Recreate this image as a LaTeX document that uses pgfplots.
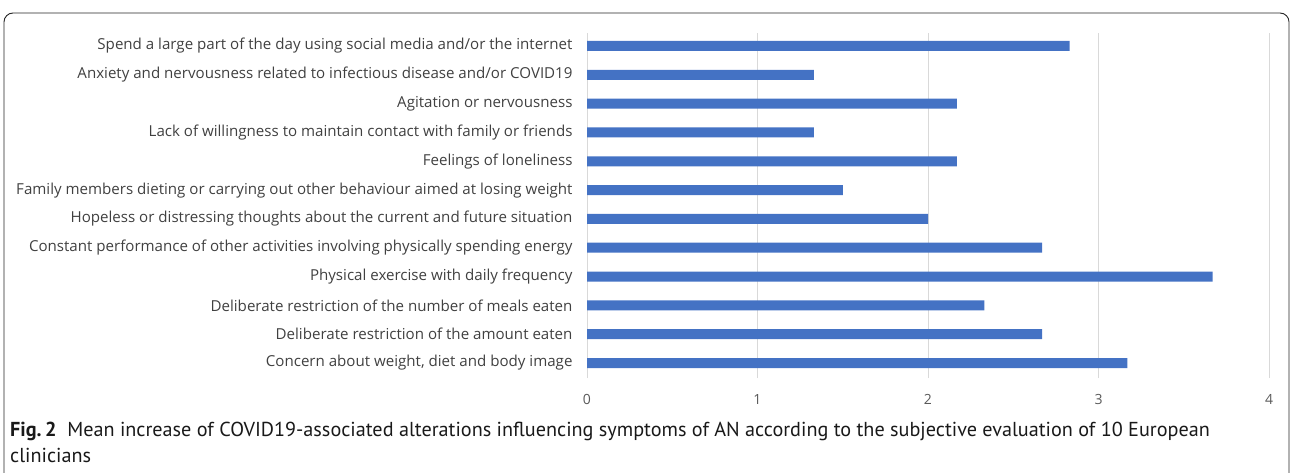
\documentclass[border=0pt]{standalone}
\usepackage{fontspec}
\setmainfont{Open Sans}
\newfontfamily\capfont{PT Sans}
\usepackage{pgfplots}
\pgfplotsset{compat=1.18}
\definecolor{barblue}{HTML}{4472C4}
\definecolor{gridgray}{HTML}{D9D9D9}
\definecolor{txt}{HTML}{404040}
\definecolor{tickc}{HTML}{595959}
\begin{document}
\begin{tikzpicture}[x=1pt,y=1pt]
\useasboundingbox (0,0) rectangle (1290,472);
\draw[line width=0.9pt, rounded corners=9pt, black!85] (4,-20) -- (4,459) -- (1289,459) -- (1289,-20);
\begin{axis}[
  at={(587pt,94pt)}, anchor=south west,
  scale only axis, width=682pt, height=345pt,
  xmin=0, xmax=4, ymin=-0.52, ymax=11.45,
  xbar, bar width=10pt,
  axis line style={draw=none},
  xmajorgrids, grid style={gridgray, line width=1pt},
  xtick={0,1,2,3,4}, ytick={0,...,11},
  major tick length=0pt,
  xticklabel style={tickc, font=\fontsize{14}{14}\selectfont, yshift=-13pt},
  yticklabel style={txt, font=\fontsize{15.1}{15}\selectfont, xshift=-11pt},
  /pgf/number format/assume math mode=true,
  yticklabels={
    {Concern about weight, diet and body image},
    Deliberate restriction of the amount eaten,
    Deliberate restriction of the number of meals eaten,
    Physical exercise with daily frequency,
    Constant performance of other activities involving physically spending energy,
    Hopeless or distressing thoughts about the current and future situation,
    Family members dieting or carrying out other behaviour aimed at losing weight,
    Feelings of loneliness,
    Lack of willingness to maintain contact with family or friends,
    Agitation or nervousness,
    Anxiety and nervousness related to infectious disease and/or COVID19,
    Spend a large part of the day using social media and/or the internet\ },
]
\addplot[fill=barblue, draw=none] coordinates {
  (3.17,0) (2.67,1) (2.33,2) (3.67,3) (2.67,4) (2.00,5)
  (1.50,6) (2.17,7) (1.33,8) (2.17,9) (1.33,10) (2.83,11)
};
\end{axis}
\node[anchor=base west, inner sep=0pt, font=\capfont\fontsize{20.2}{20}\selectfont, text=black!90] at (10,36)
  {\textbf{Fig.\,2}\ \ Mean increase of COVID19-associated alterations influencing symptoms of AN according to the subjective evaluation of 10 European};
\node[anchor=base west, inner sep=0pt, font=\capfont\fontsize{20.2}{20}\selectfont, text=black!90] at (10,10)
  {clinicians};
\end{tikzpicture}
\end{document}
